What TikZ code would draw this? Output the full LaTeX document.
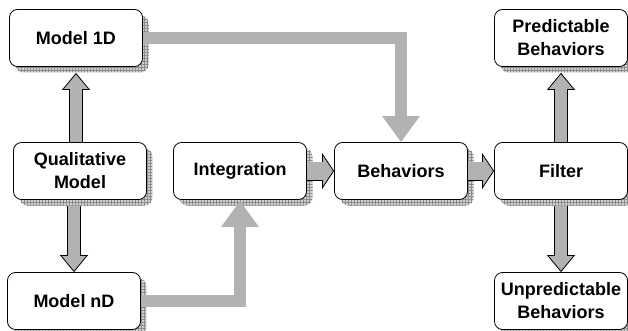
\documentclass[tikz,border=0pt]{standalone}
\usepackage{fontspec}
\setmainfont{Liberation Sans}
\usetikzlibrary{positioning, shadows, patterns, arrows.meta, calc}

\begin{document}
\begin{tikzpicture}[
    x=1pt, y=-1pt,
    on grid,
    box/.style={draw, line width=0.8pt, rounded corners=8pt, fill=white,
        minimum width=133pt, minimum height=57pt, inner sep=2pt, align=center,
        font=\bfseries\fontsize{18}{23}\selectfont,
        general shadow={shadow xshift=6pt, shadow yshift=-6pt, fill=black!18},
        general shadow={shadow xshift=6pt, shadow yshift=-6pt, pattern=grid, pattern color=black!45}},
    block/.style n args={3}{draw=black!30, line width=#1-1.6pt,
        -{Triangle[length=#2 0 0, width=#3 0 0, line width=0.8pt 0 0, color=black, fill=black!30]},
        preaction={draw=black, line width=#1, -, shorten >=#2-1pt},
        postaction={draw=black!30, line width=#1-1.6pt, -, shorten >=#2-2.5pt}},
    feed/.style={draw=black!30, line width=12pt, -{Triangle[length=26pt 0 0, width=36pt 0 0]}}
]

   % Boxes
   \useasboundingbox (0,0) rectangle (628,331);
   \node[box] (qual) at (80,171) {Qualitative\\Model};
   \node[box, right=160pt of qual] (integ) {Integration};
   \node[box, right=161pt of integ] (behav) {Behaviors};
   \node[box, right=160pt of behav] (filter) {Filter};
   \node[box, above=133pt of qual, xshift=-4pt] (m1d) {Model 1D};
   \node[box, below=130pt of qual, xshift=-6pt] (mnd) {Model nD};
   \node[box, above=133pt of filter] (pred) {Predictable\\Behaviors};
   \node[box, below=130pt of filter] (unpred) {Unpredictable\\Behaviors};

   % Arrows
   \draw[block={14pt}{17pt}{28pt}] (m1d.south |- qual.north) -- ($(m1d.south)+(0,6)$);
   \draw[block={14pt}{17pt}{28pt}] ($(mnd.north |- qual.south)+(0,6)$) -- (mnd.north);
   \draw[block={14pt}{17pt}{28pt}] (filter.north) -- ($(pred.south)+(0,6)$);
   \draw[block={14pt}{17pt}{28pt}] ($(filter.south)+(0,6)$) -- (unpred.north);
   \draw[block={19pt}{12pt}{36pt}] (integ.east) -- (integ.east -| behav.west);
   \draw[block={19pt}{12pt}{36pt}] (behav.east) -- (filter.west);
   \draw[feed] (m1d.east) -| (behav.north);
   \draw[feed] (mnd.east) -| ($(integ.south)+(0,1)$);
\end{tikzpicture}
\end{document}
